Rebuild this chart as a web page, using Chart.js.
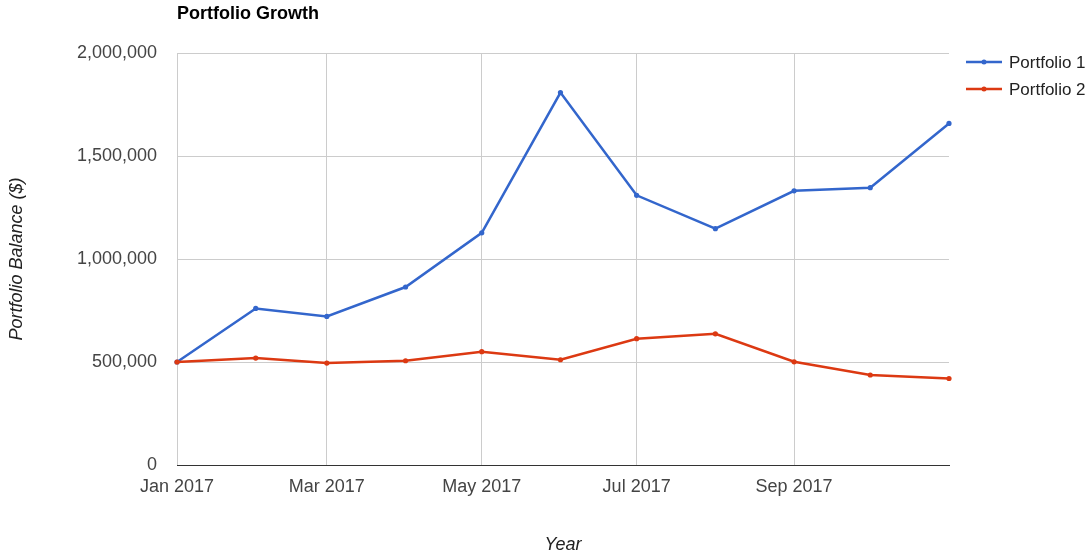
<!DOCTYPE html>
<html>
<head>
<meta charset="utf-8">
<title>Portfolio Growth</title>
<script src="https://cdn.jsdelivr.net/npm/chart.js@4/dist/chart.umd.min.js"></script>
<style>
  html, body { margin: 0; padding: 0; background: #fff; }
  canvas { display: block; }
</style>
</head>
<body>
<canvas id="growth" width="1091" height="556"></canvas>
<script>
var months = ['Jan 2017', 'Feb 2017', 'Mar 2017', 'Apr 2017', 'May 2017', 'Jun 2017',
              'Jul 2017', 'Aug 2017', 'Sep 2017', 'Oct 2017', 'Nov 2017'];
var portfolio1 = [500000, 760000, 721000, 864000, 1127000, 1808000,
                  1309000, 1147000, 1331000, 1346000, 1658000];
var portfolio2 = [500000, 519000, 495000, 506000, 550000, 511000,
                  613000, 637000, 501000, 437000, 420000];
var seriesNames = ['Portfolio 1', 'Portfolio 2'];
var seriesColors = ['#3366cc', '#dc3912'];
var yTicks = [0, 500000, 1000000, 1500000, 2000000];
var xTickMonths = [0, 2, 4, 6, 8];   // every other month gets a label

var FONT = "'Liberation Sans', Arial, sans-serif";

// no date adapter available, so the x axis is days since Jan 1
var DAY = 86400000;
var monthDays = months.map(function(m, i) {
  return (Date.UTC(2017, i, 1) - Date.UTC(2017, 0, 1)) / DAY;
});
function points(values) {
  return values.map(function(v, i) { return { x: monthDays[i], y: v }; });
}

// title + legend, drawn the way the old google charts did it
var decorations = {
  id: 'decorations',
  afterDraw: function(chart) {
    var ctx = chart.ctx;
    ctx.save();
    ctx.fillStyle = '#000';
    ctx.font = 'bold 18px ' + FONT;
    ctx.textAlign = 'left';
    ctx.textBaseline = 'alphabetic';
    ctx.fillText('Portfolio Growth', 177, 19);

    var x0 = 966, x1 = 1002;
    seriesNames.forEach(function(name, i) {
      var y = 62 + i * 27;
      ctx.strokeStyle = seriesColors[i];
      ctx.lineWidth = 2.5;
      ctx.beginPath();
      ctx.moveTo(x0, y);
      ctx.lineTo(x1, y);
      ctx.stroke();
      ctx.fillStyle = seriesColors[i];
      ctx.beginPath();
      ctx.arc((x0 + x1) / 2, y, 2.5, 0, Math.PI * 2);
      ctx.fill();
      ctx.fillStyle = '#222';
      ctx.font = '17px ' + FONT;
      ctx.textBaseline = 'middle';
      ctx.fillText(name, 1009, y + 1);
    });
    ctx.restore();
  }
};

function lineSet(i, values, order) {
  return {
    label: seriesNames[i],
    data: points(values),
    borderColor: seriesColors[i],
    backgroundColor: seriesColors[i],
    borderWidth: 2.5,
    pointRadius: 2.6,
    pointBorderWidth: 0,
    pointHoverRadius: 2.6,
    tension: 0,
    clip: false,
    order: order
  };
}

var ctx = document.getElementById('growth').getContext('2d');
new Chart(ctx, {
  type: 'line',
  data: {
    datasets: [lineSet(0, portfolio1, 1), lineSet(1, portfolio2, 0)]
  },
  options: {
    responsive: false,
    animation: false,
    layout: { padding: { top: 53, right: 142, bottom: 0, left: 0 } },
    plugins: {
      legend: { display: false },
      title: { display: false },
      tooltip: { enabled: false }
    },
    scales: {
      x: {
        type: 'linear',
        min: monthDays[0],
        max: monthDays[monthDays.length - 1],
        afterFit: function(scale) { scale.height = 91; },
        afterBuildTicks: function(scale) {
          scale.ticks = xTickMonths.map(function(m) { return { value: monthDays[m] }; });
        },
        border: { color: '#333', width: 1 },
        grid: { drawTicks: false, color: '#ccc' },
        ticks: {
          maxRotation: 0,
          padding: 11,
          color: '#444',
          font: { family: FONT, size: 18 },
          callback: function(v) { return months[monthDays.indexOf(v)]; }
        },
        title: {
          display: true,
          text: 'Year',
          color: '#222',
          padding: { top: 0, bottom: 0 },
          font: { family: FONT, size: 18, style: 'italic' }
        }
      },
      y: {
        min: 0,
        max: 2000000,
        afterFit: function(scale) { scale.width = 177; },
        afterBuildTicks: function(scale) {
          scale.ticks = yTicks.map(function(v) { return { value: v }; });
        },
        border: { display: false },
        grid: {
          drawTicks: false,
          color: function(c) { return c.tick && c.tick.value === 0 ? '#333' : '#ccc'; }
        },
        ticks: {
          padding: 20,
          color: '#444',
          font: { family: FONT, size: 18 },
          callback: function(v) { return v.toLocaleString('en-US'); }
        },
        title: {
          display: true,
          text: 'Portfolio Balance ($)',
          color: '#222',
          padding: { top: 6, bottom: 0 },
          font: { family: FONT, size: 18, style: 'italic' }
        }
      }
    }
  },
  plugins: [decorations]
});
</script>
</body>
</html>
